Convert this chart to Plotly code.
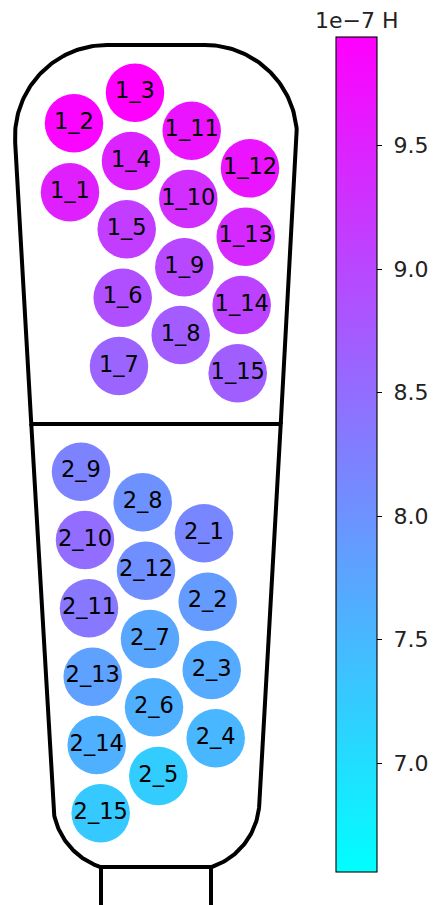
import numpy as np
import plotly.graph_objects as go

# Conductor labels (winding_turn), centre positions in mm and inductance in 1e-7 H
labels = ["1_1", "1_2", "1_3", "1_4", "1_5", "1_6", "1_7", "1_8", "1_9", "1_10",
          "1_11", "1_12", "1_13", "1_14", "1_15",
          "2_1", "2_2", "2_3", "2_4", "2_5", "2_6", "2_7", "2_8", "2_9", "2_10",
          "2_11", "2_12", "2_13", "2_14", "2_15"]
x_mm = [-8.60, -8.20, -2.10, -2.50, -2.93, -3.33, -3.70, 2.47, 2.83, 3.23,
        3.57, 9.40, 8.97, 8.57, 8.17,
        4.80, 5.17, 5.57, 5.97, 0.23, -0.20, -0.60, -1.33, -7.50, -7.10,
        -6.70, -1.00, -6.33, -5.93, -5.53]
y_mm = [67.47, 74.37, 77.43, 70.60, 63.77, 56.93, 50.10, 53.20, 59.97, 66.80,
        73.63, 69.87, 63.03, 56.20, 49.37,
        33.37, 26.53, 19.70, 12.87, 9.10, 15.97, 22.80, 36.47, 39.53, 32.70,
        25.87, 29.63, 19.03, 12.20, 5.37]
inductance_e7 = [9.53, 9.87, 9.94, 9.47, 9.13, 8.89, 8.62, 8.72, 8.99, 9.33,
                 9.67, 9.67, 9.40, 9.06, 8.69,
                 8.15, 7.88, 7.68, 7.51, 7.24, 7.61, 7.74, 8.01, 8.22, 8.49,
                 8.35, 8.05, 7.81, 7.61, 7.27]
cbar_min, cbar_max = 6.56, 9.94
cbar_ticks = [7.0, 7.5, 8.0, 8.5, 9.0, 9.5]

# matplotlib "cool" colormap: linear cyan -> magenta
cool = [[0.0, "rgb(0,255,255)"], [1.0, "rgb(255,0,255)"]]


# --- slot outline geometry (mm) ---
def arc(cx, cy, r, a0, a1, n=60):
    t = np.linspace(a0, a1, n)
    return cx + r * np.cos(t), cy + r * np.sin(t)


top_y, top_half = 82.2, 4.9
r_top = 9.2
taper = 0.0567                         # sides narrow towards the bottom
side_tilt = np.arctan(taper)
split_y = 44.3                         # boundary between the two windings
bot_half = 5.6
r_bot = 7.0
stem_half = 5.5


def half_width(y):
    # straight tapered side starting at the end of the top arc
    return (top_half + r_top) - taper * ((top_y - r_top) - y)


# upper region: rounded top, tapered sides, flat bottom at split_y
ax_r, ay_r = arc(top_half, top_y - r_top, r_top, -side_tilt, np.pi / 2)
ax_l, ay_l = arc(-top_half, top_y - r_top, r_top, np.pi / 2, np.pi + side_tilt)
w_split = half_width(split_y)
upper_x = [w_split] + list(ax_r) + list(ax_l) + [-w_split, w_split]
upper_y = [split_y] + list(ay_r) + list(ay_l) + [split_y, split_y]

# lower region: tapered sides, rounded bottom corners
cy_b = np.sqrt(r_bot ** 2 - (bot_half - (half_width(r_bot) - r_bot)) ** 2)
cx_b = half_width(cy_b) - r_bot
a_end = np.arctan2(-cy_b, -bot_half + cx_b)
bl_x, bl_y = arc(-cx_b, cy_b, r_bot, np.pi + side_tilt, 2 * np.pi + a_end)
a_end_r = np.arctan2(-cy_b, bot_half - cx_b)
br_x, br_y = arc(cx_b, cy_b, r_bot, a_end_r, -side_tilt)
lower_x = [-w_split] + list(bl_x) + list(br_x) + [w_split, -w_split]
lower_y = [split_y] + list(bl_y) + list(br_y) + [split_y, split_y]

stem_x = [-stem_half, -stem_half, stem_half, stem_half]
stem_y = [-10, 0, 0, -10]

fig = go.Figure()
for xs, ys in [(upper_x, upper_y), (lower_x, lower_y), (stem_x, stem_y)]:
    fig.add_trace(go.Scatter(x=xs, y=ys, mode="lines",
                             line=dict(color="black", width=4),
                             hoverinfo="skip", showlegend=False))

fig.add_trace(go.Scatter(
    x=x_mm, y=y_mm, mode="markers+text",
    text=labels, textposition="middle center",
    textfont=dict(family="DejaVu Sans", size=22.5, color="black"),
    marker=dict(size=58.5, color=inductance_e7, colorscale=cool,
                cmin=cbar_min, cmax=cbar_max, line=dict(width=0),
                showscale=True,
                colorbar=dict(
                    thickness=41, lenmode="pixels", len=835,
                    x=336 / 436, xanchor="left", xpad=0,
                    y=1 - 454.5 / 905, yanchor="middle", ypad=0,
                    outlinecolor="black", outlinewidth=1.1,
                    tickmode="array", tickvals=cbar_ticks,
                    ticktext=["\u00a0" + f"{v:.1f}" for v in cbar_ticks],
                    ticks="outside", ticklen=5, tickwidth=1.1, tickcolor="black",
                    tickfont=dict(family="DejaVu Sans", size=22, color="#222"),
                )),
    hoverinfo="text", showlegend=False))

fig.add_annotation(text="1e\u22127 H", xref="paper", yref="paper",
                   x=356.5 / 436, y=1 - 21 / 905, xanchor="center", yanchor="middle",
                   showarrow=False,
                   font=dict(family="DejaVu Sans", size=22, color="#222"))

fig.update_layout(
    width=436, height=905,
    margin=dict(l=0, r=0, t=0, b=0, autoexpand=False),
    paper_bgcolor="white", plot_bgcolor="white",
    xaxis=dict(visible=False, range=[-15.6, 28.0]),
    yaxis=dict(visible=False, range=[-3.8, 86.7]),
)

fig.write_html("out.html")
